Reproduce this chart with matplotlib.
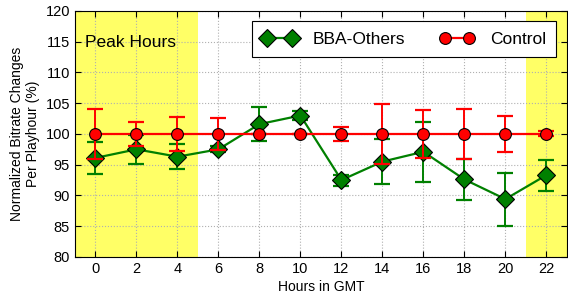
import matplotlib
matplotlib.use('Agg')
import matplotlib.pyplot as plt
import numpy as np

plt.rcParams['font.family'] = ['Liberation Sans', 'DejaVu Sans']

hours = [0, 2, 4, 6, 8, 10, 12, 14, 16, 18, 20, 22]
bba = [96.1, 97.5, 96.3, 97.5, 101.6, 103.0, 92.5, 95.5, 97.1, 92.6, 89.4, 93.3]
bba_err = [2.6, 2.4, 2.0, 0.5, 2.8, 0.7, 0.9, 3.6, 4.9, 3.4, 4.3, 2.5]
control = [100, 100, 100, 100, 100, 100, 100, 100, 100, 100, 100, 100]
control_err = [4.0, 2.0, 2.8, 2.6, 0.0, 0.0, 1.1, 4.9, 3.9, 4.0, 3.0, 0.4]

fig = plt.figure(figsize=(5.68, 2.97), dpi=100)
ax = fig.add_axes([0.132, 0.135, 0.866, 0.828])

# peak hours shading
ax.axvspan(-1, 5, color='#ffff66', zorder=0, lw=0)
ax.axvspan(21, 23, color='#ffff66', zorder=0, lw=0)

green = '#008000'
ax.errorbar(hours, bba, yerr=bba_err, fmt='none', ecolor=green, capsize=6,
            capthick=1.6, elinewidth=1.4, zorder=3)
ax.plot(hours, bba, color=green, lw=1.6, marker='D', ms=9, mfc=green, mec='black',
        mew=0.8, label='BBA-Others', zorder=3)
ax.errorbar(hours, control, yerr=control_err, fmt='none', ecolor='red', capsize=6,
            capthick=1.6, elinewidth=1.4, zorder=4)
ax.plot(hours, control, color='red', lw=1.6, marker='o', ms=8.5, mfc='red', mec='black',
        mew=0.8, label='Control', zorder=4)

ax.text(-0.5, 114.8, 'Peak Hours', fontsize=12.5, va='center', ha='left')

ax.set_xlim(-1, 23)
ax.set_ylim(80, 120)
ax.set_xticks(hours)
ax.set_yticks(range(80, 121, 5))
ax.tick_params(direction='in', top=True, right=True, labelsize=10.5, length=4)
ax.grid(True, ls=':', color='#b0b0b0', lw=0.8)
ax.set_axisbelow(True)
ax.set_xlabel('Hours in GMT', fontsize=10, labelpad=3)
ax.set_ylabel('Normalized Bitrate Changes\nPer Playhour (%)', fontsize=10, labelpad=4)

leg = ax.legend(loc='upper right', ncol=2, numpoints=2, fontsize=12.5, fancybox=False,
                edgecolor='black', framealpha=1, borderaxespad=0.6, columnspacing=2.0,
                handlelength=2.0, handletextpad=0.9, borderpad=0.6)
leg.get_frame().set_linewidth(0.8)

plt.savefig('out.png', dpi=100)
